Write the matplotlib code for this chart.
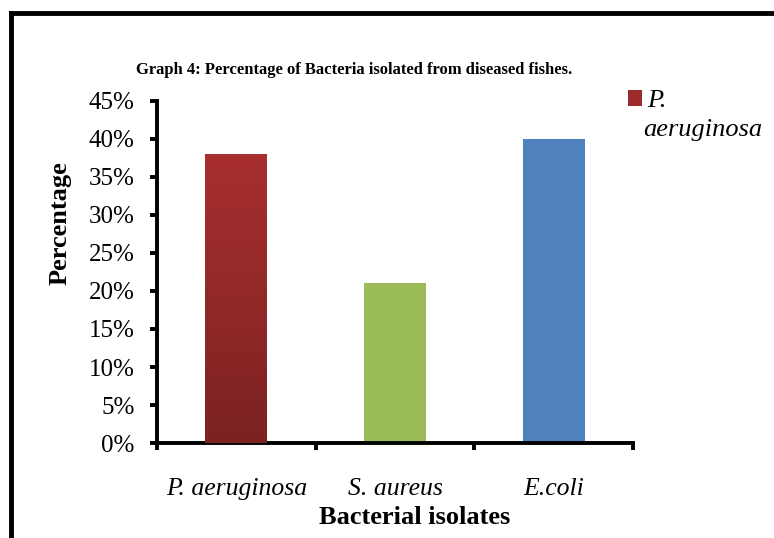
import numpy as np
import matplotlib
matplotlib.use("Agg")
import matplotlib.pyplot as plt
from matplotlib.lines import Line2D
from matplotlib.colors import LinearSegmentedColormap

# Values
isolates = ["P. aeruginosa", "S. aureus", "E.coli"]
percent = [38, 21, 40]
colors = ["#9B2B2B", "#9BBB59", "#4F81BD"]
yticks = [0, 5, 10, 15, 20, 25, 30, 35, 40, 45]

plt.rcParams["font.family"] = ["Liberation Serif", "DejaVu Serif"]

fig = plt.figure(figsize=(7.74, 5.38), dpi=100)
ax = fig.add_axes([157/774, 95/538, (633-157)/774, (443-101)/538])

x = np.arange(len(isolates))
bars = ax.bar(x, percent, width=0.39, color=colors, zorder=2)

# red bar has a vertical gradient (light at top, dark at bottom)
b = bars[0]
grad_cmap = LinearSegmentedColormap.from_list("red_grad", ["#7C2222", "#A82F2F"])
grad = np.linspace(0, 1, 256).reshape(-1, 1)
im = ax.imshow(grad, cmap=grad_cmap, origin="lower", aspect="auto",
               extent=(b.get_x(), b.get_x() + b.get_width(), 0, b.get_height()),
               zorder=3)
im.set_clip_path(b)

ax.set_xlim(-0.5, 2.5)
ax.set_ylim(0, 45)

ax.set_yticks(yticks)
ax.set_yticklabels(["{}%".format(v) for v in yticks], fontsize=18)
ax.set_xticks([-0.5, 0.5, 1.5, 2.5])
ax.set_xticklabels([])
ax.set_xticks(x, minor=True)
ax.set_xticklabels(isolates, minor=True, fontsize=18.5, style="italic")
ax.tick_params(axis="x", which="minor", length=0, pad=25)
ax.tick_params(axis="both", which="major", direction="out", length=5, width=2.8)
ax.tick_params(axis="y", pad=11)

for s in ["top", "right"]:
    ax.spines[s].set_visible(False)
for s in ["left", "bottom"]:
    ax.spines[s].set_linewidth(2.8)

fig.text(354/774, 1 - 70/538, "Graph 4: Percentage of Bacteria isolated from diseased fishes.",
         ha="center", va="center", fontsize=12, fontweight="bold")
fig.text(60/774, 1 - 223/538, "Percentage", rotation=90, ha="center", va="center",
         fontsize=19, fontweight="bold")
fig.text(415/774, 1 - 517/538, "Bacterial isolates", ha="center", va="center",
         fontsize=19, fontweight="bold")

leg = ax.legend([bars[0]], ["P."], loc="upper left",
                bbox_to_anchor=(604/774, 1 - 66/538), bbox_transform=fig.transFigure,
                frameon=False, handlelength=0.55, handleheight=0.55, handletextpad=0.2,
                prop={"style": "italic", "size": 19})
fig.text(643/774, 1 - 130/538, "aeruginosa", ha="left", va="center",
         fontsize=19, style="italic")

# black frame on the top and left edge
fig.add_artist(Line2D([11/774, 11/774], [0, 1 - 13/538], color="black", lw=3.5,
                      transform=fig.transFigure))
fig.add_artist(Line2D([11/774, 1], [1 - 13/538, 1 - 13/538], color="black", lw=3.5,
                      transform=fig.transFigure))

fig.savefig("out.png", dpi=100)
